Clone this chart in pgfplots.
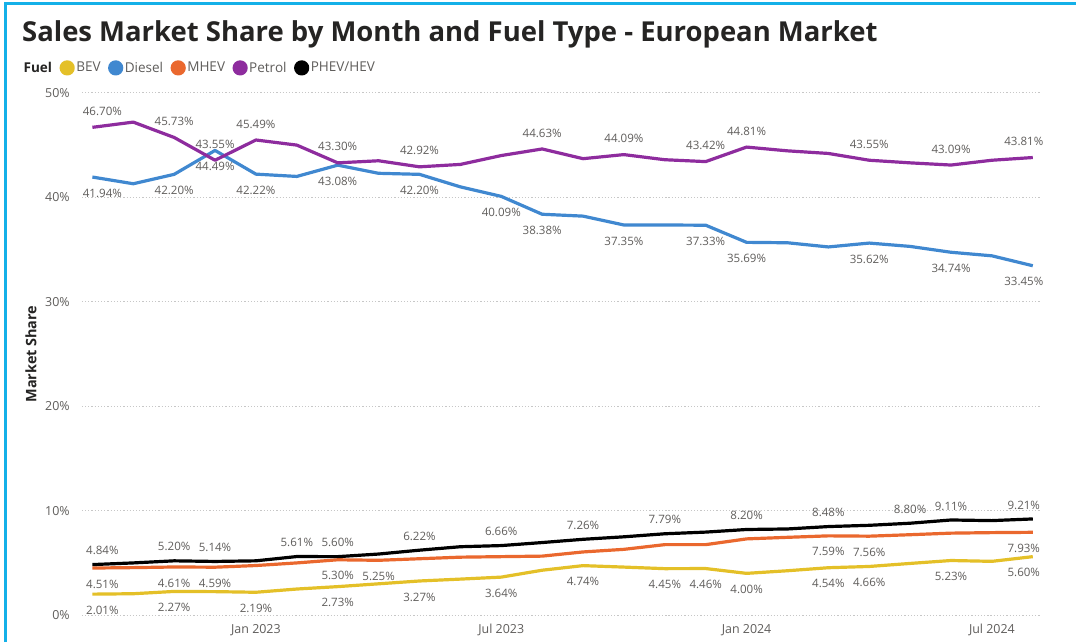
\documentclass[border=0pt]{standalone}
\usepackage{fontspec}
\setmainfont{Open Sans}
\newcommand\titlefont{\bfseries}
\usepackage{pgfplots}
\pgfplotsset{compat=1.18}
\usepackage{pgfplotstable}
\definecolor{bevc}{RGB}{228,192,40}
\definecolor{dieselc}{RGB}{64,136,208}
\definecolor{mhevc}{RGB}{234,104,46}
\definecolor{petrolc}{RGB}{142,44,158}
\definecolor{phevc}{RGB}{0,0,0}
\definecolor{labc}{RGB}{96,94,92}
\definecolor{titlec}{RGB}{37,36,35}
\definecolor{framec}{RGB}{20,176,232}

% x = month index (0 = Sep 2022), y = share in %, lab = 1 if labelled
\pgfplotstableread{
x y lab
0 2.01 1
1 2.05 0
2 2.27 1
3 2.25 0
4 2.19 1
5 2.50 0
6 2.73 1
7 3.00 0
8 3.27 1
9 3.45 0
10 3.64 1
11 4.30 0
12 4.74 1
13 4.60 0
14 4.45 1
15 4.46 1
16 4.00 1
17 4.25 0
18 4.54 1
19 4.66 1
20 4.95 0
21 5.23 1
22 5.15 0
23 5.60 1
}\bevtab
\pgfplotstableread{
x y lab
0 41.94 1
1 41.30 0
2 42.20 1
3 44.49 1
4 42.22 1
5 42.00 0
6 43.08 1
7 42.30 0
8 42.20 1
9 41.00 0
10 40.09 1
11 38.38 1
12 38.20 0
13 37.35 1
14 37.35 0
15 37.33 1
16 35.69 1
17 35.65 0
18 35.25 0
19 35.62 1
20 35.30 0
21 34.74 1
22 34.40 0
23 33.45 1
}\dieseltab
\pgfplotstableread{
x y lab
0 4.51 1
1 4.55 0
2 4.61 1
3 4.59 1
4 4.75 0
5 5.00 0
6 5.30 1
7 5.25 1
8 5.40 0
9 5.55 0
10 5.60 0
11 5.65 0
12 6.05 0
13 6.30 0
14 6.75 0
15 6.75 0
16 7.30 0
17 7.45 0
18 7.59 1
19 7.56 1
20 7.70 0
21 7.85 0
22 7.90 0
23 7.93 1
}\mhevtab
\pgfplotstableread{
x y lab
0 46.70 1
1 47.20 0
2 45.73 1
3 43.55 1
4 45.49 1
5 45.00 0
6 43.30 1
7 43.50 0
8 42.92 1
9 43.15 0
10 44.00 0
11 44.63 1
12 43.70 0
13 44.09 1
14 43.60 0
15 43.42 1
16 44.81 1
17 44.45 0
18 44.20 0
19 43.55 1
20 43.30 0
21 43.09 1
22 43.55 0
23 43.81 1
}\petroltab
\pgfplotstableread{
x y lab
0 4.84 1
1 5.00 0
2 5.20 1
3 5.14 1
4 5.20 0
5 5.61 1
6 5.60 1
7 5.85 0
8 6.22 1
9 6.55 0
10 6.66 1
11 6.95 0
12 7.26 1
13 7.50 0
14 7.79 1
15 7.95 0
16 8.20 1
17 8.25 0
18 8.48 1
19 8.60 0
20 8.80 1
21 9.11 1
22 9.05 0
23 9.21 1
}\phevtab

\pgfplotsset{
  serie/.style={line width=3.2bp, line join=round, mark=none},
  dlab/.style={draw=none, mark=none, forget plot,
    restrict expr to domain={\thisrow{lab}}{0.5:1.5},
    point meta=y,
    visualization depends on={x \as \xv},
    nodes near coords={\pgfmathprintnumber[fixed,fixed zerofill,precision=2,assume math mode=true]{\pgfplotspointmeta}\%},
    nodes near coords style={anchor=center, inner sep=0, text=labc,
      font=\fontsize{11.6}{14}\selectfont, yshift=#1,
      xshift={ifthenelse(\xv<0.5,10,ifthenelse(\xv>22.5,-9,0))*1bp}}},
}

\begin{document}
\begin{tikzpicture}
% axis box: lower left at (0,0), 960bp x 523bp; page runs from (-82bp,-27bp) to (995bp,616bp)
\fill[white] (-82bp,-27bp) rectangle (995bp,616bp);
\draw[framec, line width=3bp] (-76.5bp,-27bp) -- (-76.5bp,612bp) -- (995bp,612bp);
\node[anchor=base west, inner sep=0, text=titlec,
  font=\fontsize{27.6}{32}\titlefont] at (-60bp,574bp)
  {Sales Market Share by Month and Fuel Type - European Market};
\begin{axis}[
  at={(0bp,0bp)}, anchor=south west,
  scale only axis, width=960bp, height=523bp,
  xmin=-0.257, xmax=23.19, ymin=0, ymax=50,
  ytick={0,10,20,30,40,50},
  yticklabels={0\%,10\%,20\%,30\%,40\%,50\%},
  xtick={4,10,16,22},
  xticklabels={Jan 2023,Jul 2023,Jan 2024,Jul 2024},
  axis line style={draw=none},
  major tick length=0,
  ymajorgrids,
  grid style={line width=1.2bp, dotted, black!22},
  yticklabel style={inner sep=0, xshift=-12bp, text=labc, font=\fontsize{12.5}{14}\selectfont},
  xticklabel style={inner sep=0, yshift=-9bp, text=labc, font=\fontsize{12.5}{14}\selectfont},
  ylabel={Market Share},
  ylabel style={at={(axis description cs:-0.053,0.5)}, anchor=center,
    text=titlec, font=\fontsize{14.5}{16}\titlefont},
  legend columns=-1,
  legend style={at={(axis description cs:-0.0625,1.0478)}, anchor=west,
    draw=none, fill=none, inner sep=0,
    font=\fontsize{13.6}{16}\selectfont, text=labc,
    nodes={inner xsep=1.5bp, inner ysep=0},
    /tikz/every even column/.append style={column sep=6bp}},
  clip=false,
]
\addlegendimage{empty legend}
\addlegendentry{\textcolor{titlec}{\titlefont Fuel}}
\addplot[serie, color=bevc, legend image code/.code={\fill[bevc] (3bp,0) circle (6bp);}] table[x=x,y=y] {\bevtab};
\addlegendentry{BEV}
\addplot[serie, color=dieselc, legend image code/.code={\fill[dieselc] (3bp,0) circle (6bp);}] table[x=x,y=y] {\dieseltab};
\addlegendentry{Diesel}
\addplot[serie, color=mhevc, legend image code/.code={\fill[mhevc] (3bp,0) circle (6bp);}] table[x=x,y=y] {\mhevtab};
\addlegendentry{MHEV}
\addplot[serie, color=petrolc, legend image code/.code={\fill[petrolc] (3bp,0) circle (6bp);}] table[x=x,y=y] {\petroltab};
\addlegendentry{Petrol}
\addplot[serie, color=phevc, legend image code/.code={\fill[phevc] (3bp,0) circle (6bp);}] table[x=x,y=y] {\phevtab};
\addlegendentry{PHEV/HEV}

\addplot[dlab=-16bp] table[x=x,y=y] {\bevtab};
\addplot[dlab=-16bp] table[x=x,y=y] {\dieseltab};
\addplot[dlab=-16bp] table[x=x,y=y] {\mhevtab};
\addplot[dlab=16bp] table[x=x,y=y] {\petroltab};
\addplot[dlab=14bp] table[x=x,y=y] {\phevtab};
\end{axis}
\end{tikzpicture}
\end{document}
